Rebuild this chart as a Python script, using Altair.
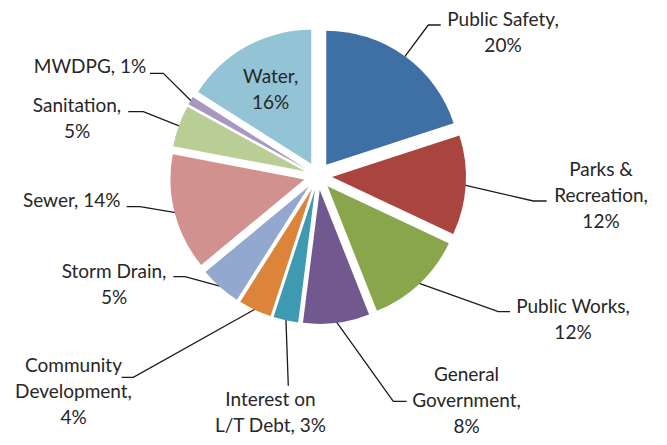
import altair as alt
import numpy as np
import pandas as pd

# ---- data ----
categories = ["Public Safety", "Parks & Recreation", "Public Works", "General Government",
              "Interest on L/T Debt", "Community Development", "Storm Drain", "Sewer",
              "Sanitation", "MWDPG", "Water"]
values = [20, 12, 12, 8, 3, 4, 5, 14, 5, 1, 16]
labels = ["Public Safety,\n20%", "Parks &\nRecreation,\n12%", "Public Works,\n12%",
          "General\nGovernment,\n8%", "Interest on\nL/T Debt, 3%",
          "Community\nDevelopment,\n4%", "Storm Drain,\n5%", "Sewer, 14%",
          "Sanitation,\n5%", "MWDPG, 1%", "Water,\n16%"]
colors = ["#3E70A6", "#A9443F", "#89A64C", "#71598F", "#3E9AB0", "#DC853A",
          "#92A8CE", "#D1918F", "#B8CE95", "#A698C0", "#92C4D6"]

# ---- layout (pixels in plot area) ----
CX, CY, R, D = 310, 168, 134, 14
lab_x = [495, 593, 565, 458.5, 262.5, 65.5, 106, 63.7, 69, 82, 262.7]
lab_y = [12, 162, 298.7, 366.7, 392.3, 358, 263.7, 193, 98, 58.7, 68.7]
elb_x = [420.3, 525.3, 490.3, 385.3, 280.3, 125.3, 177, 132, 135.3, 155.3, None]
elb_y = [17, 193, 303.7, 393.3, 377.7, 369.3, 268.7, 198.7, 103.7, 65.3, None]
end_x = [432.7, 538.7, 502, 398.7, 280.3, 113.7, 165.3, 118.7, 120.3, 142, None]

df = pd.DataFrame({
    "category": categories, "value": values, "label": labels,
    "order": list(range(len(categories))),
    "lx": lab_x, "ly": lab_y,
})

# leader lines: start at the outer edge of each (exploded) slice, at its middle angle
vals = np.array(values, dtype=float)
t2 = 2 * np.pi * np.cumsum(vals) / vals.sum()
t1 = t2 - 2 * np.pi * vals / vals.sum()
mid = (t1 + t2) / 2
rows = []
for i, cat in enumerate(categories):
    if elb_x[i] is None:
        continue
    sx = CX + (D + R - 1) * np.sin(mid[i])
    sy = CY - (D + R - 1) * np.cos(mid[i])
    pts = [(sx, sy), (elb_x[i], elb_y[i]), (end_x[i], elb_y[i])]
    for k, (px, py) in enumerate(pts):
        rows.append({"category": cat, "k": k, "px": float(px), "py": float(py)})
lines_df = pd.DataFrame(rows)

base = alt.Chart(df).transform_window(
    cum="sum(value)", sort=[alt.SortField("order")], frame=[None, 0]
).transform_joinaggregate(
    total="sum(value)"
).transform_calculate(
    t1="2*PI*(datum.cum-datum.value)/datum.total",
    t2="2*PI*datum.cum/datum.total",
).transform_calculate(
    mid="(datum.t1+datum.t2)/2"
).transform_calculate(
    cx=f"{CX}+{D}*sin(datum.mid)",
    cy=f"{CY}-{D}*cos(datum.mid)",
)

color = alt.Color("category:N", scale=alt.Scale(domain=categories, range=colors), legend=None)

arcs = base.mark_arc(outerRadius=R).encode(
    theta=alt.Theta("t1:Q", scale=None),
    theta2="t2:Q",
    x=alt.X("cx:Q", scale=None),
    y=alt.Y("cy:Q", scale=None),
    color=color,
)

leaders = alt.Chart(lines_df).mark_line(color="#1a1a1a", strokeWidth=1.3).encode(
    x=alt.X("px:Q", scale=None),
    y=alt.Y("py:Q", scale=None),
    detail="category:N",
    order="k:Q",
)

text = alt.Chart(df).mark_text(font="Lato", fontSize=19, lineBreak="\n", lineHeight=26,
                               align="center", baseline="middle", color="#262626").encode(
    x=alt.X("lx:Q", scale=None), y=alt.Y("ly:Q", scale=None), text="label:N",
)

chart = alt.layer(leaders, arcs, text).properties(
    width=651, height=429, padding=0,
    autosize=alt.AutoSizeParams(type="none"),
).configure_view(stroke=None)

chart.save("out.html", embed_options={"renderer": "svg", "actions": False})
